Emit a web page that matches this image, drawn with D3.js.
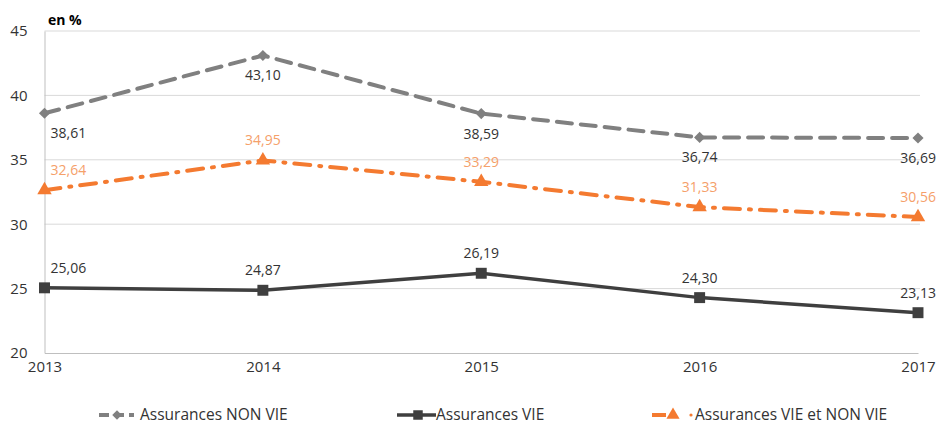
<!DOCTYPE html>
<html><head><meta charset="utf-8">
<script src="https://cdn.jsdelivr.net/npm/d3@7"></script>
<style>body{margin:0;background:#fff}svg{display:block}text{font-family:"Open Sans","DejaVu Sans",sans-serif}</style>
</head><body><svg id="c" width="936" height="426"></svg>
<script>
const years = ["2013","2014","2015","2016","2017"];
const nonVie = [38.61, 43.10, 38.59, 36.74, 36.69];
const vie = [25.06, 24.87, 26.19, 24.30, 23.13];
const vieNonVie = [32.64, 34.95, 33.29, 31.33, 30.56];
const yTicks = [20, 25, 30, 35, 40, 45];
const seriesNames = ["Assurances NON VIE", "Assurances VIE", "Assurances VIE et NON VIE"];

const svg = d3.select("#c");
const x = d3.scalePoint().domain(years).range([44.5, 918]);
const y = d3.scaleLinear().domain([20, 45]).range([353, 31]);
const fmt = v => v.toFixed(2).replace(".", ",");

// gridlines
svg.append("g").selectAll("line").data(yTicks.filter(t => t > 20)).join("line")
  .attr("x1", 44.5).attr("x2", 920).attr("y1", d => y(d)).attr("y2", d => y(d))
  .attr("stroke", "#d9d9d9").attr("stroke-width", 1);

// y axis
const ya = svg.append("g").attr("transform", "translate(44.5,0)")
  .call(d3.axisLeft(y).tickValues(yTicks).tickSize(0).tickPadding(17));
ya.select(".domain").attr("stroke", "#bfbfbf");
ya.selectAll("text").attr("font-size", 15).attr("fill", "#333");

// x axis
const xa = svg.append("g").attr("transform", "translate(0,353)")
  .call(d3.axisBottom(x).tickSize(0).tickPadding(8));
xa.select(".domain").attr("stroke", "#bfbfbf");
xa.selectAll("text").attr("font-size", 15).attr("fill", "#333");

svg.append("text").attr("x", 48).attr("y", 25).attr("font-size", 14).attr("font-weight", "bold")
  .attr("fill", "#000").text("en %");

const line = d3.line().x((d, i) => x(years[i])).y(d => y(d));

const series = [
  {name: seriesNames[0], data: nonVie, color: "#808080", width: 4, dash: "15,9", sym: d3.symbolSquare, rot: 45, size: 62, labelColor: "#333", dy: 25},
  {name: seriesNames[1], data: vie, color: "#3f3f3f", width: 3.5, dash: null, sym: d3.symbolSquare, rot: 0, size: 120, labelColor: "#333", dy: -15},
  {name: seriesNames[2], data: vieNonVie, color: "#f47a30", width: 4, dash: "16,9,2,9", sym: d3.symbolTriangle, rot: 0, size: 90, labelColor: "#f5a06a", dy: -15}
];

series.forEach(s => {
  svg.append("path").datum(s.data).attr("d", line).attr("fill", "none")
    .attr("stroke", s.color).attr("stroke-width", s.width)
    .attr("stroke-dasharray", s.dash).attr("stroke-linecap", s.dash ? "round" : "butt");
  svg.append("g").selectAll("path").data(s.data).join("path")
    .attr("d", d3.symbol().type(s.sym).size(s.size))
    .attr("transform", (d, i) => `translate(${x(years[i])},${y(d)}) rotate(${s.rot})`)
    .attr("fill", s.color);
  svg.append("g").selectAll("text").data(s.data).join("text")
    .attr("x", (d, i) => i === 0 ? x(years[i]) + 6 : (i === 4 ? 936 : x(years[i])))
    .attr("y", d => y(d) + s.dy)
    .attr("text-anchor", (d, i) => i === 0 ? "start" : (i === 4 ? "end" : "middle"))
    .attr("font-size", 14).attr("fill", s.labelColor).text(fmt);
});

// legend
const leg = svg.append("g");
const ly = 415;
const lfs = 15.5;
// item 1
leg.append("line").attr("x1", 99).attr("x2", 134).attr("y1", ly).attr("y2", ly)
  .attr("stroke", "#808080").attr("stroke-width", 4).attr("stroke-dasharray", "10,5");
leg.append("path").attr("d", d3.symbol().type(d3.symbolSquare).size(45))
  .attr("transform", `translate(117,${ly}) rotate(45)`).attr("fill", "#808080");
leg.append("text").attr("x", 140).attr("y", ly + 5).attr("font-size", lfs).attr("fill", "#333").text(seriesNames[0]);
// item 2
leg.append("line").attr("x1", 397).attr("x2", 436).attr("y1", ly).attr("y2", ly)
  .attr("stroke", "#3f3f3f").attr("stroke-width", 3.5);
leg.append("path").attr("d", d3.symbol().type(d3.symbolSquare).size(90))
  .attr("transform", `translate(418,${ly})`).attr("fill", "#3f3f3f");
leg.append("text").attr("x", 436).attr("y", ly + 5).attr("font-size", lfs).attr("fill", "#333").text(seriesNames[1]);
// item 3
leg.append("line").attr("x1", 652).attr("x2", 666).attr("y1", ly).attr("y2", ly)
  .attr("stroke", "#f47a30").attr("stroke-width", 4);
leg.append("path").attr("d", d3.symbol().type(d3.symbolTriangle).size(75))
  .attr("transform", `translate(673,${ly})`).attr("fill", "#f47a30");
leg.append("circle").attr("cx", 691).attr("cy", ly).attr("r", 1.6).attr("fill", "#f47a30");
leg.append("text").attr("x", 695).attr("y", ly + 5).attr("font-size", lfs).attr("fill", "#333").text(seriesNames[2]);
</script></body></html>
